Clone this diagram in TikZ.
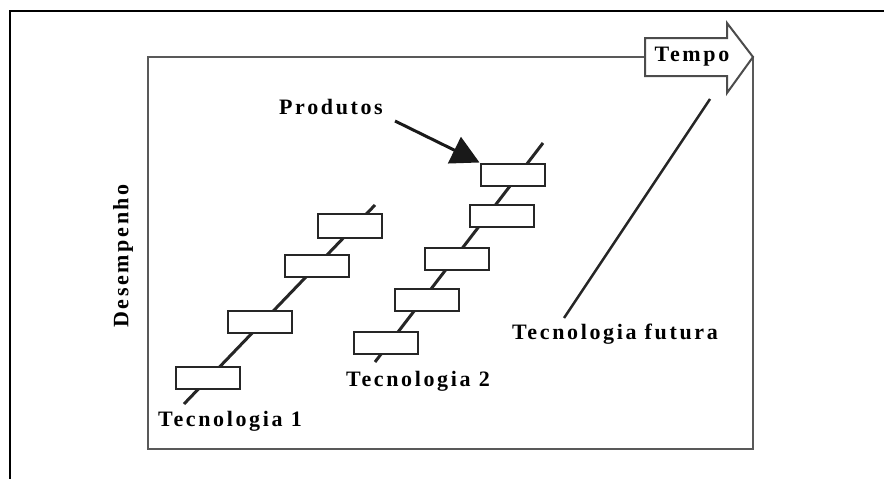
\documentclass[tikz,border=0pt]{standalone}
\usepackage{fontspec}
\setmainfont{Liberation Serif}[LetterSpace=12]
\usetikzlibrary{arrows.meta,shapes.arrows}
\tikzset{
  lbl/.style={font=\fontsize{22}{24}\selectfont\bfseries, inner sep=0pt},
  prod/.style={draw=black!85, line width=2pt, fill=white, minimum width=64pt, minimum height=22pt, inner sep=0pt},
  techline/.style={draw=black!85, line width=3pt},
}
\begin{document}
\begin{tikzpicture}[x=1pt,y=-1pt]
\useasboundingbox (0,0) rectangle (884,479);
% outer frame (top and left)
\coordinate (ofa) at (10,479);
\coordinate (ofb) at (10,11);
\coordinate (ofc) at (884,11);
\draw[line width=1.5pt, black] (ofa) -- (ofb) -- (ofc);
% inner frame
\coordinate (ina) at (148,57);
\coordinate (inb) at (753,449);
\draw[line width=2pt, black!65] (ina) rectangle (inb);
% Tempo arrow
\draw[line width=2pt, draw=black!70, fill=white, line join=miter]
  (645,38) -- (727,38) -- (727,23) -- (753,57) -- (727,93) -- (727,76) -- (645,76) -- cycle;
\node[lbl] (tempo) at (692,57) {Tempo};
% technology lines
\coordinate (t1s) at (184,404);
\coordinate (t1e) at (375,205);
\coordinate (t2s) at (375,362);
\coordinate (t2e) at (543,143);
\coordinate (tfs) at (564,318);
\coordinate (tfe) at (710,99);
\draw[techline] (t1s) -- (t1e);
\draw[techline] (t2s) -- (t2e);
\draw[techline, line width=2.5pt] (tfs) -- (tfe);
% products technology 1
\node[prod] (a1) at (208,378) {};
\node[prod] (a2) at (259.5,322) {};
\node[prod] (a3) at (316.5,265.5) {};
\node[prod, minimum height=24pt] (a4) at (350,225.5) {};
% products technology 2
\node[prod] (b1) at (385.5,343) {};
\node[prod] (b2) at (426.5,300) {};
\node[prod] (b3) at (457,259) {};
\node[prod] (b4) at (501.5,216) {};
\node[prod] (b5) at (512.5,174.5) {};
% labels
\node[lbl] (produtos) at (331,107) {Produtos};
\node[lbl] (tec1) at (230,421) {Tecnologia 1};
\node[lbl] (tec2) at (418,381) {Tecnologia 2};
\node[lbl] (tecf) at (615,334) {Tecnologia futura};
\node[lbl, rotate=90] (desemp) at (123,256) {Desempenho};
% Produtos pointer
\coordinate (ptail) at (395,121);
\draw[line width=3pt, black!90, -{Triangle[length=28pt,width=29pt]}] (ptail) -- (b5.north west);
\end{tikzpicture}
\end{document}
